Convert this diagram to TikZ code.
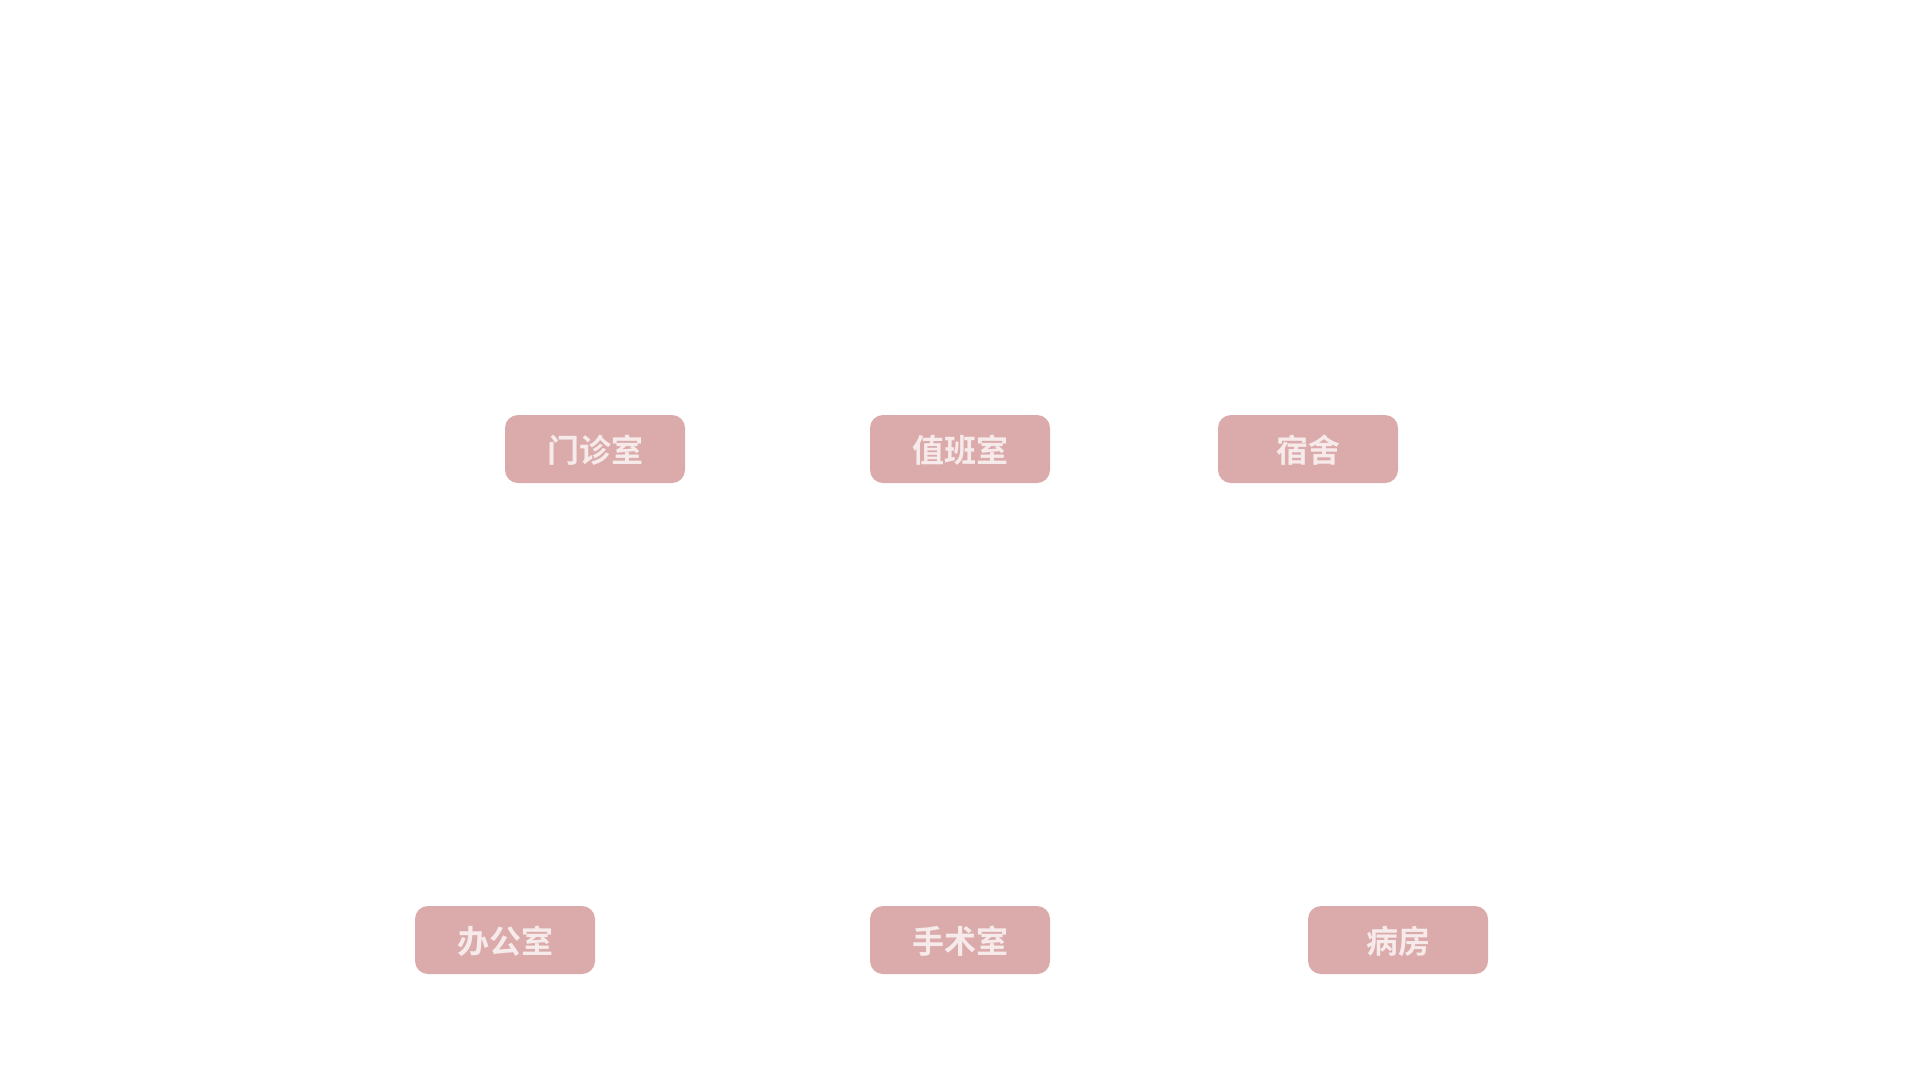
\documentclass[tikz,border=0pt]{standalone}
\usepackage{fontspec}
\newfontfamily\cjk{Noto Sans CJK SC}[BoldFont={Noto Sans CJK SC Bold}]
\definecolor{boxfill}{HTML}{DBABAB}
\definecolor{boxtext}{HTML}{F7EAEA}
\begin{document}
\begin{tikzpicture}[x=1pt,y=-1pt,
  room/.style={draw=none,fill=boxfill,rounded corners=13pt,minimum width=180pt,minimum height=68pt,
    inner sep=0pt,text height=27pt,text depth=0pt,text=boxtext,font=\cjk\bfseries\fontsize{32}{36}\selectfont}]
\useasboundingbox[fill=white] (0,0) rectangle (1920,1080);
\node[room] (menzhen) at (595,449) {门诊室};
\node[room] (zhiban) at (960,449) {值班室};
\node[room] (sushe) at (1308,449) {宿舍};
\node[room] (bangong) at (505,940) {办公室};
\node[room] (shoushu) at (960,940) {手术室};
\node[room] (bingfang) at (1398,940) {病房};
\end{tikzpicture}
\end{document}
